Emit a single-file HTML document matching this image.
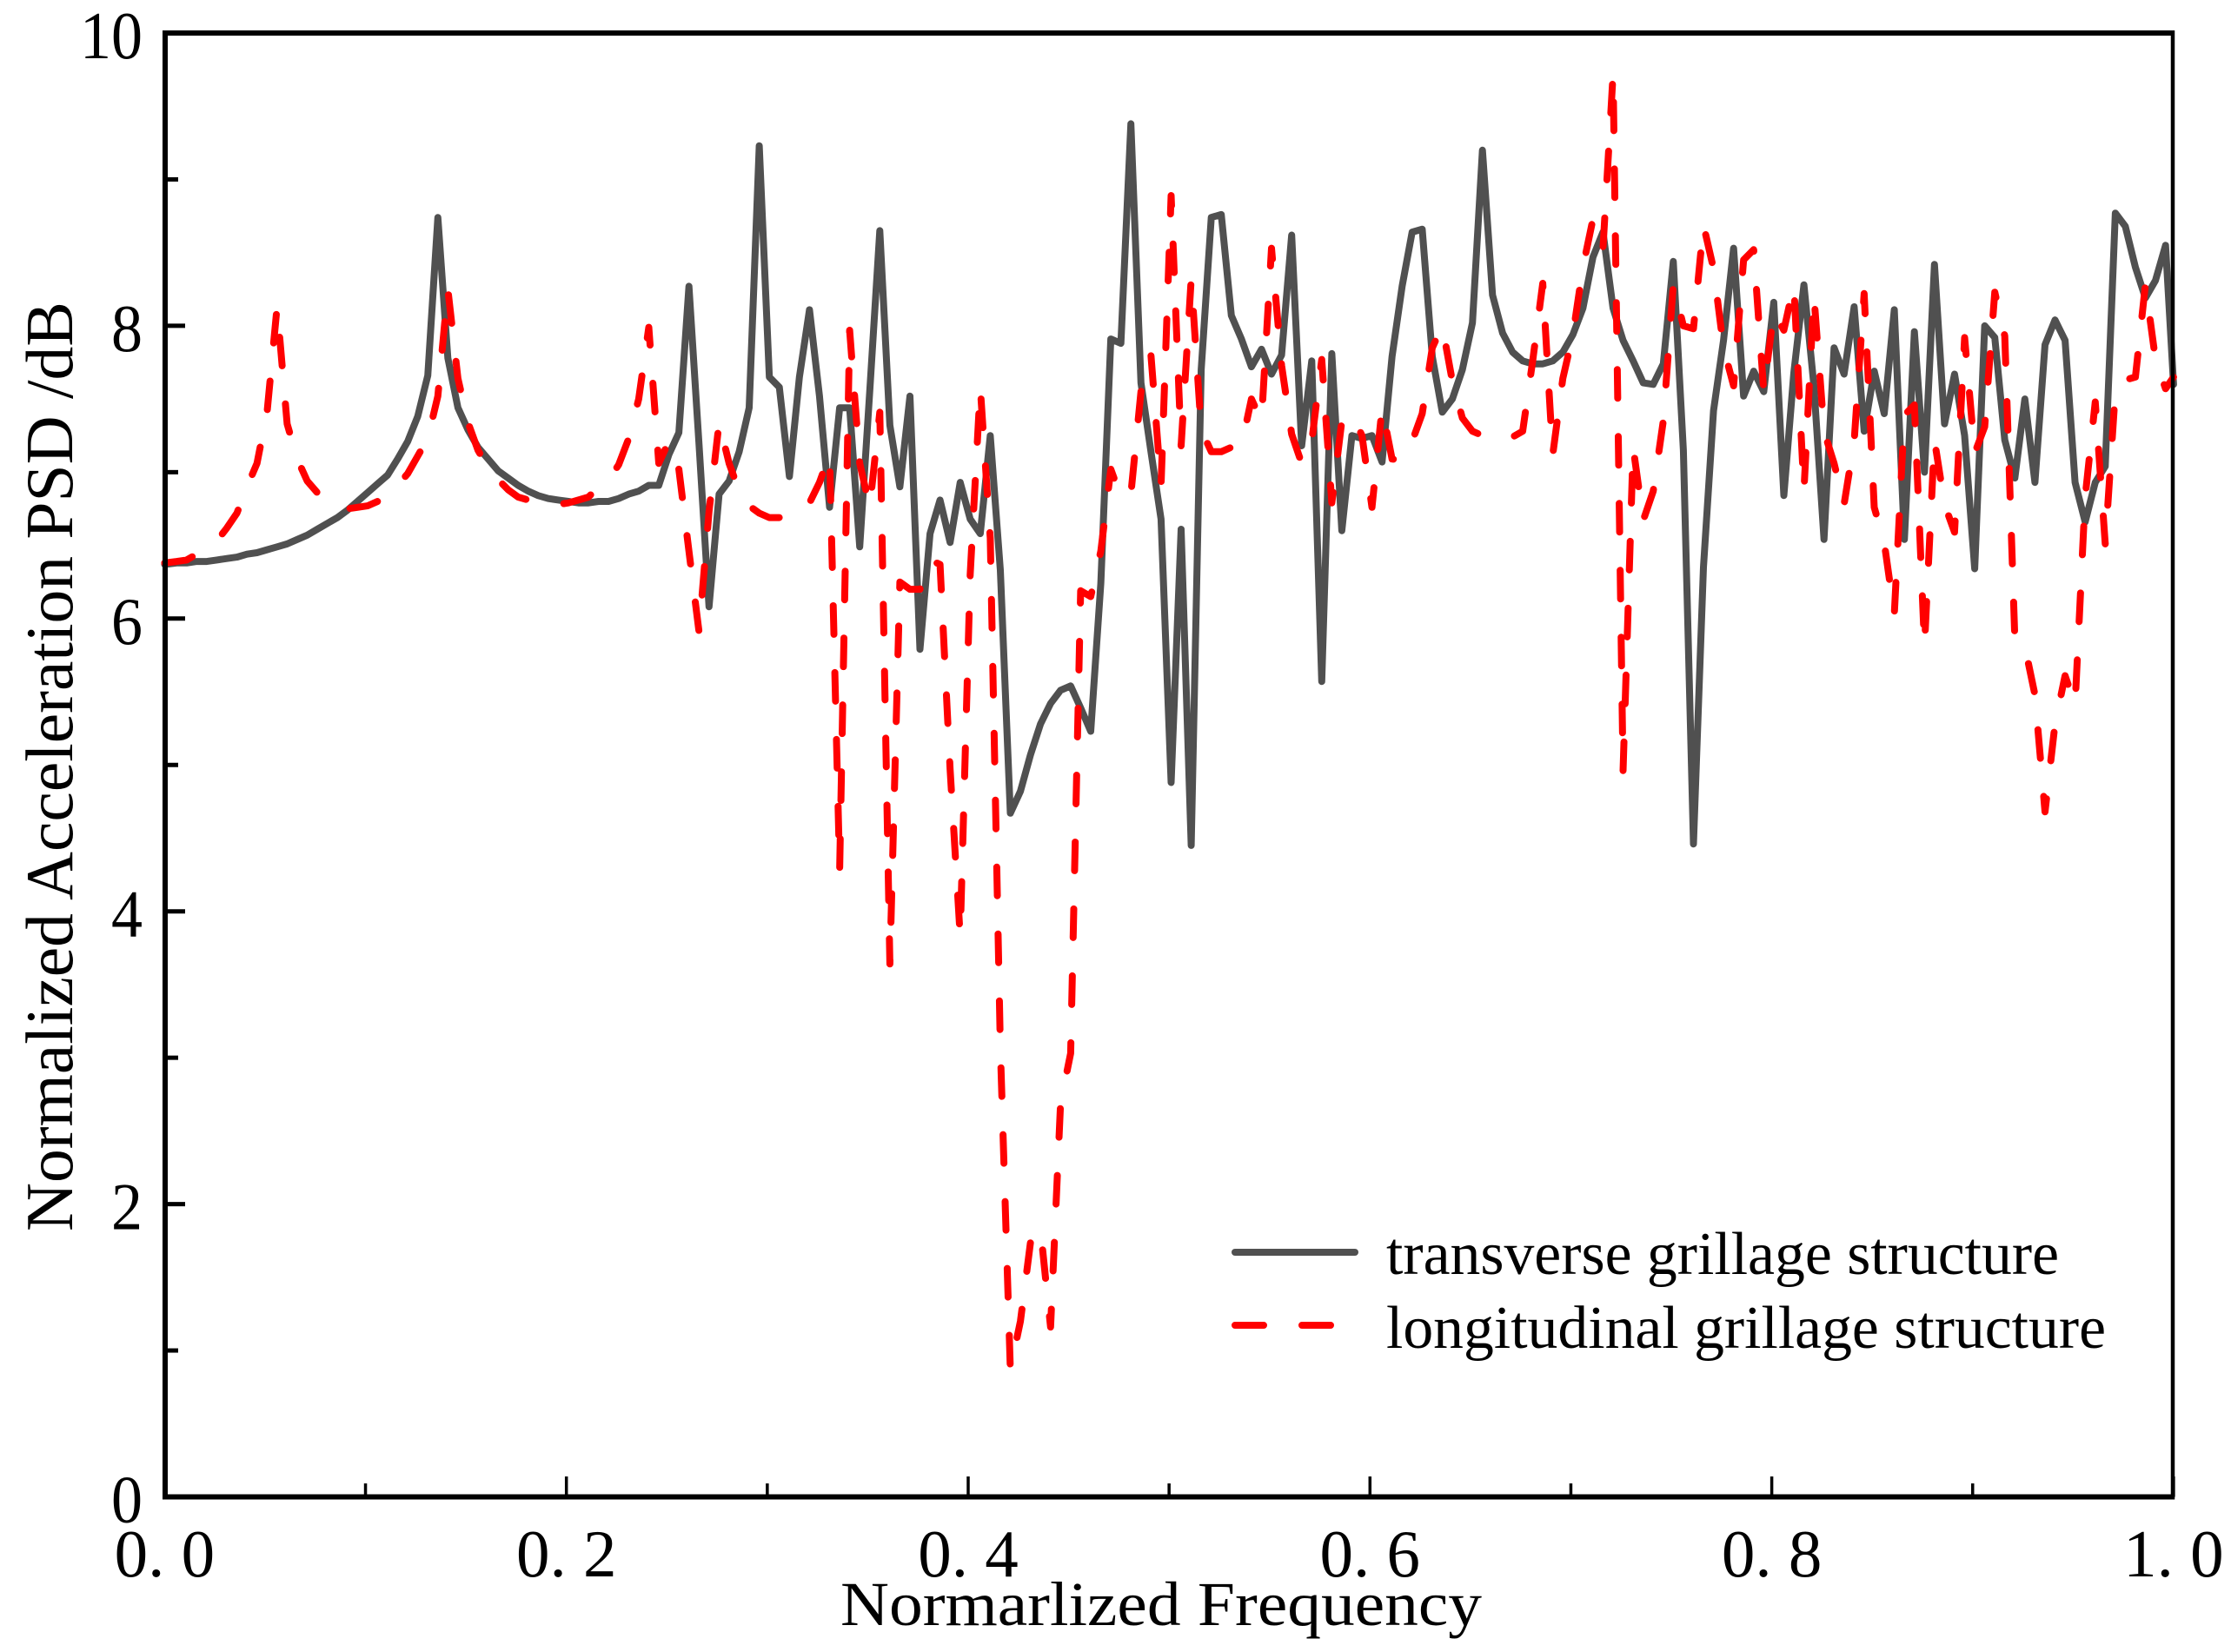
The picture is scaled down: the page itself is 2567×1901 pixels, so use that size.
<!DOCTYPE html>
<html lang="en">
<head>
<meta charset="utf-8">
<title>Normalized Acceleration PSD</title>
<style>
html,body{margin:0;padding:0;background:#fff;width:2567px;height:1901px;overflow:hidden}
svg{display:block}
text{font-family:"Liberation Serif",serif;fill:#000}
</style>
</head>
<body>
<svg id="chart" xmlns="http://www.w3.org/2000/svg" width="2567" height="1901" viewBox="0 0 2567 1901">
  <rect x="0" y="0" width="2567" height="1901" fill="#ffffff"/>
  <g id="ticks"></g>
  <g id="series"></g>
  <g id="frame">
    <line x1="190" y1="35" x2="190" y2="1725.5" stroke="#000" stroke-width="6"/>
    <line x1="187" y1="38" x2="2502" y2="38" stroke="#000" stroke-width="6"/>
    <line x1="2500" y1="35" x2="2500" y2="1725.5" stroke="#000" stroke-width="4.5"/>
    <line x1="187" y1="1722.5" x2="2502" y2="1722.5" stroke="#000" stroke-width="6"/>
  </g>
  <g id="tick-labels"></g>
  <text x="967" y="1870" font-size="72" textLength="738" lengthAdjust="spacingAndGlyphs">Normarlized Frequency</text>
  <text transform="translate(83,1417) rotate(-90)" x="0" y="0" font-size="77" textLength="1070" lengthAdjust="spacingAndGlyphs">Normalized Acceleration PSD /dB</text>
  <g>
    <line x1="1421" y1="1441" x2="1559" y2="1441" stroke="#505050" stroke-width="8" stroke-linecap="round"/>
    <text x="1595" y="1466" font-size="70" textLength="774" lengthAdjust="spacingAndGlyphs">transverse grillage structure</text>
    <line x1="1421" y1="1525" x2="1532" y2="1525" stroke="#ff0000" stroke-width="8" stroke-linecap="round" stroke-dasharray="33 44"/>
    <text x="1595" y="1551" font-size="70" textLength="828" lengthAdjust="spacingAndGlyphs">longitudinal grillage structure</text>
  </g>
</svg>
<script>
const frequencies = [0.000,0.006,0.011,0.016,0.021,0.026,0.031,0.036,0.041,0.046,
0.051,0.056,0.061,0.066,0.071,0.076,0.081,0.086,0.091,0.096,
0.101,0.106,0.111,0.116,0.121,0.126,0.131,0.136,0.141,0.146,
0.151,0.156,0.161,0.166,0.171,0.176,0.181,0.186,0.191,0.196,
0.201,0.206,0.211,0.216,0.221,0.226,0.231,0.236,0.241,0.246,
0.251,0.256,0.261,0.266,0.271,0.276,0.281,0.286,0.291,0.296,
0.301,0.306,0.311,0.316,0.321,0.326,0.331,0.336,0.341,0.346,
0.351,0.356,0.361,0.366,0.371,0.376,0.381,0.386,0.391,0.396,
0.401,0.406,0.411,0.416,0.421,0.426,0.431,0.436,0.441,0.446,
0.451,0.456,0.461,0.466,0.471,0.476,0.481,0.486,0.491,0.496,
0.501,0.506,0.511,0.516,0.521,0.526,0.531,0.536,0.541,0.546,
0.551,0.556,0.561,0.566,0.571,0.576,0.581,0.586,0.591,0.596,
0.601,0.606,0.611,0.616,0.621,0.626,0.631,0.636,0.641,0.646,
0.651,0.656,0.661,0.666,0.671,0.676,0.681,0.686,0.691,0.696,
0.701,0.706,0.711,0.716,0.721,0.726,0.731,0.736,0.741,0.746,
0.751,0.756,0.761,0.766,0.771,0.776,0.781,0.786,0.791,0.796,
0.801,0.806,0.811,0.816,0.821,0.826,0.831,0.836,0.841,0.846,
0.851,0.856,0.861,0.866,0.871,0.876,0.881,0.886,0.891,0.896,
0.901,0.906,0.911,0.916,0.921,0.926,0.931,0.936,0.941,0.946,
0.951,0.956,0.961,0.966,0.971,0.976,0.981,0.986,0.991,0.996,1.000];
const transverse = [6.37,6.38,6.38,6.39,6.39,6.40,6.41,6.42,6.44,6.45,
6.47,6.49,6.51,6.54,6.57,6.61,6.65,6.69,6.74,6.80,
6.86,6.92,6.98,7.09,7.21,7.38,7.66,8.74,7.78,7.44,
7.29,7.17,7.09,7.01,6.96,6.91,6.87,6.84,6.82,6.81,
6.80,6.79,6.79,6.80,6.80,6.82,6.85,6.87,6.91,6.91,
7.12,7.27,8.27,7.19,6.08,6.85,6.94,7.14,7.44,9.23,
7.65,7.58,6.97,7.65,8.11,7.52,6.76,7.44,7.44,6.49,
7.55,8.65,7.32,6.90,7.52,5.79,6.58,6.81,6.52,6.93,
6.68,6.58,7.25,6.33,4.67,4.82,5.07,5.28,5.42,5.51,
5.54,5.39,5.23,6.24,7.91,7.88,9.38,7.61,7.14,6.68,
4.88,6.61,4.45,7.70,8.74,8.76,8.07,7.91,7.72,7.84,
7.67,7.80,8.62,7.18,7.76,5.57,7.81,6.60,7.25,7.23,
7.25,7.07,7.79,8.27,8.64,8.66,7.79,7.41,7.50,7.70,
8.02,9.20,8.21,7.95,7.82,7.76,7.74,7.74,7.76,7.82,
7.94,8.12,8.47,8.64,8.12,7.90,7.76,7.61,7.60,7.74,
8.44,7.15,4.46,6.35,7.42,7.90,8.53,7.52,7.69,7.55,
8.16,6.84,7.68,8.28,7.59,6.54,7.85,7.67,8.13,7.28,
7.69,7.40,8.11,6.54,7.96,7.00,8.42,7.33,7.67,7.25,
6.34,8.00,7.92,7.22,6.96,7.50,6.93,7.87,8.04,7.90,
6.93,6.66,6.93,7.04,8.77,8.68,8.40,8.19,8.31,8.55,7.60];
const longitudinal = [6.38,6.39,6.40,6.44,6.48,6.53,6.62,6.72,6.90,7.06,
7.41,8.13,7.33,7.09,6.94,6.86,6.80,6.76,6.75,6.76,
6.77,6.80,6.83,6.91,6.99,7.11,7.23,7.52,8.25,7.64,
7.34,7.15,7.03,6.95,6.88,6.83,6.81,6.80,6.79,6.78,
6.79,6.81,6.83,6.90,6.95,7.05,7.23,7.50,7.99,7.06,
7.21,7.02,6.46,5.91,6.73,7.34,7.06,6.87,6.77,6.72,
6.69,6.69,6.69,6.72,6.79,6.93,7.12,4.28,7.97,7.06,
6.76,7.41,3.64,6.25,6.20,6.20,6.40,6.37,4.97,3.83,
6.30,7.58,6.55,3.07,0.87,1.20,1.74,1.83,1.16,2.69,
3.03,6.19,6.15,6.46,7.02,6.83,6.85,7.55,7.80,6.91,
8.89,7.18,8.32,7.29,7.14,7.14,7.17,7.18,7.50,7.35,
8.53,7.73,7.26,7.06,7.21,7.77,6.79,7.35,7.40,7.25,
6.76,7.44,7.09,7.08,7.21,7.40,7.85,8.00,7.62,7.37,
7.28,7.25,7.23,7.22,7.24,7.28,7.76,8.29,7.12,7.64,
7.94,8.40,8.73,8.53,9.72,4.96,7.17,6.67,6.87,7.35,
8.28,8.00,7.98,8.69,8.39,7.85,7.59,8.45,8.52,7.55,
8.10,7.97,8.28,6.87,8.21,7.28,7.06,6.78,7.21,8.22,
6.76,6.52,6.03,7.39,7.46,5.81,7.22,6.78,6.59,7.92,
7.13,7.31,8.23,7.93,5.86,5.81,5.48,4.68,5.28,5.61,
5.41,6.83,7.48,6.51,7.55,7.63,7.65,8.28,7.77,7.57,7.65];
const xMajorTicks = [0.0,0.2,0.4,0.6,0.8,1.0];
const xMinorTicks = [0.1,0.3,0.5,0.7,0.9];
const xTickLabels = ["0. 0","0. 2","0. 4","0. 6","0. 8","1. 0"];
const yMajorTicks = [0,2,4,6,8,10];
const yMinorTicks = [1,3,5,7,9];
const yTickLabels = ["0","2","4","6","8","10"];

const NS = "http://www.w3.org/2000/svg";
function xAxis(f){ return 189.4 + f * 2311.5; }
function yAxis(v){ return 1722.5 - v * 168.45; }
function make(tag, attrs, parent){
  const el = document.createElementNS(NS, tag);
  Object.keys(attrs).forEach(function(k){ el.setAttribute(k, attrs[k]); });
  parent.appendChild(el);
  return el;
}
function linePoints(values){
  return values.map(function(v, i){
    return xAxis(frequencies[i]).toFixed(1) + "," + yAxis(v).toFixed(1);
  }).join(" ");
}

const ticks = document.getElementById("ticks");
const labels = document.getElementById("tick-labels");
const series = document.getElementById("series");

xMajorTicks.forEach(function(f, i){
  const t = make("line", {x1:xAxis(f), x2:xAxis(f), y1:1722.5, y2:1699, stroke:"#000", "stroke-width":3.5}, ticks);
  
  
  const l = make("text", {x:xAxis(f), y:1814, "font-size":77, "text-anchor":"middle", style:"white-space:pre"}, labels);
  
  
  l.textContent = xTickLabels[i];
});
xMinorTicks.forEach(function(f){
  const t = make("line", {x1:xAxis(f), x2:xAxis(f), y1:1722.5, y2:1707, stroke:"#000", "stroke-width":3.5}, ticks);
  
  
});
yMajorTicks.forEach(function(v, i){
  const t = make("line", {x1:190, x2:213, y1:yAxis(v), y2:yAxis(v), stroke:"#000", "stroke-width":5}, ticks);
  
  
  const l = make("text", {x:164, y:yAxis(v) + 29, "font-size":77, "text-anchor":"end", textLength:yTickLabels[i].length * 36, lengthAdjust:"spacingAndGlyphs"}, labels);
  
  
  l.textContent = yTickLabels[i];
});
yMinorTicks.forEach(function(v){
  const t = make("line", {x1:190, x2:205, y1:yAxis(v), y2:yAxis(v), stroke:"#000", "stroke-width":5}, ticks);
  
  
});

const grayLine = make("polyline", {points:linePoints(transverse), fill:"none", stroke:"#505050", "stroke-width":8, "stroke-linejoin":"round", "stroke-linecap":"round"}, series);


const redLine = make("polyline", {points:linePoints(longitudinal), fill:"none", stroke:"#ff0000", "stroke-width":8, "stroke-linejoin":"round", "stroke-linecap":"round", "stroke-dasharray":"33 44"}, series);


</script>
</body>
</html>
